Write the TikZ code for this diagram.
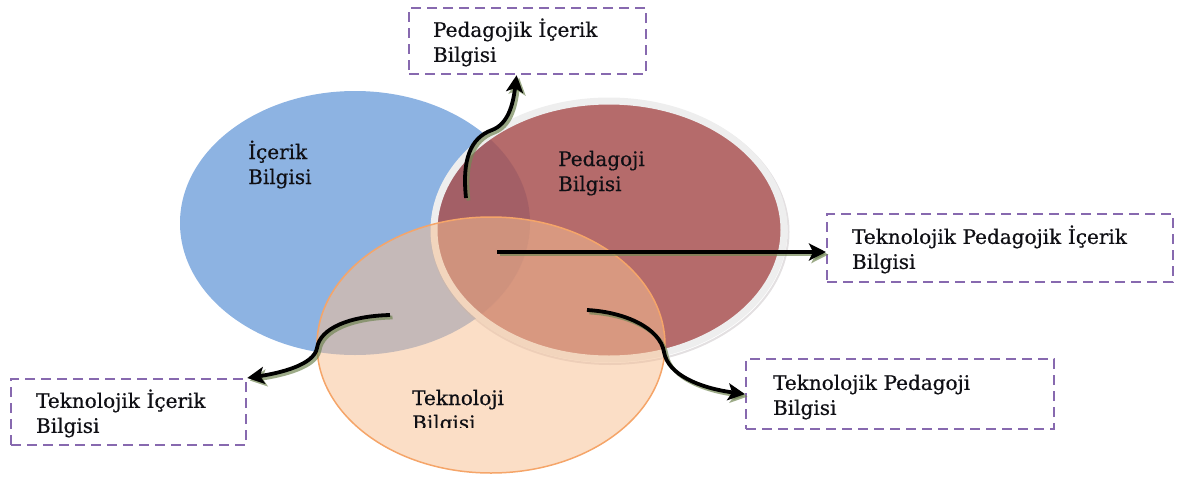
\documentclass[tikz,border=0pt]{standalone}
\usepackage{fontspec}
\setmainfont{DejaVu Serif}[FakeBold=0.6]
\usetikzlibrary{shapes.geometric,arrows.meta}
\definecolor{bluef}{RGB}{141,179,226}
\definecolor{redf}{RGB}{168,81,81}
\definecolor{rimc}{RGB}{238,238,238}
\definecolor{rimsh}{RGB}{175,165,170}
\definecolor{orf}{RGB}{247,192,147}
\definecolor{ord}{RGB}{245,165,105}
\definecolor{boxc}{RGB}{135,105,175}
\definecolor{shad}{RGB}{115,135,85}
\definecolor{txt}{RGB}{15,15,20}
\newcommand{\fstrut}{\rule{0pt}{21pt}}
\begin{document}
\begin{tikzpicture}[x=1pt,y=-1pt,
  lbl/.style={font=\fontsize{20}{25}\selectfont, text=txt, align=left, anchor=base west, inner sep=0pt},
  dbox/.style={draw=boxc, line width=2.2pt, dash pattern=on 10pt off 6pt,
    font=\fontsize{20}{25}\selectfont, text=txt, align=left, inner ysep=0pt, anchor=north west},
  blob/.style={ellipse, inner sep=0pt},
  conn/.style={line width=3.8pt, draw=black, -{Stealth[length=17pt,width=17pt,inset=4pt]}},
  connsh/.style={line width=3.8pt, draw=shad, opacity=0.7,
    -{Stealth[length=17pt,width=17pt,inset=4pt]}, transform canvas={xshift=2.5pt,yshift=-2.5pt}},
]
\useasboundingbox (0,0) rectangle (1179,480);

% ellipses
\node[blob, fill=bluef, minimum width=350pt, minimum height=264pt] (ic) at (355,223) {};
\draw[draw=rimsh, draw opacity=0.35, line width=2pt] (610,232) ellipse [x radius=178.5pt, y radius=132pt];
\node[blob, fill=redf, fill opacity=0.85, draw=rimc, line width=7pt,
      minimum width=350pt, minimum height=258pt] (pd) at (609,230) {};
\node[blob, fill=orf, fill opacity=0.53, draw=ord, line width=1.5pt,
      minimum width=348pt, minimum height=256pt] (tk) at (491,345) {};

% labels in ellipses (anchor = baseline of last line)
\node[lbl] (l1) at (248,184) {İçerik\\Bilgisi};
\node[lbl] (l2) at (558,191) {Pedagoji\\Bilgisi};
\begin{scope}
  \clip (380,380) rectangle (540,427);
  \node[lbl] (l3) at (412,430) {Teknoloji\\Bilgisi};
\end{scope}

% dashed boxes
\node[dbox, text width=189pt, inner xsep=24pt, minimum height=66pt] (b1) at (408,7) {\fstrut Pedagojik İçerik\\Bilgisi};
\node[dbox, text width=296pt, inner xsep=25pt, minimum height=68pt] (b2) at (826,213) {\fstrut Teknolojik Pedagojik İçerik\\Bilgisi};
\node[dbox, text width=185pt, inner xsep=25pt, minimum height=66pt] (b3) at (10,378) {\fstrut Teknolojik İçerik\\Bilgisi};
\node[dbox, text width=254pt, inner xsep=27pt, minimum height=70pt] (b4) at (745,358) {\fstrut Teknolojik Pedagoji\\Bilgisi};

% connector start points
\coordinate (s1) at (466,198);
\coordinate (s2) at (497,252);
\coordinate (s3) at (390,315);
\coordinate (s4) at (587,310);

% shadows
\draw[connsh] (s1) .. controls (462,160) and (470,138) .. (492,130) .. controls (508,124) and (513,105) .. ([xshift=-11pt]b1.south);
\draw[connsh] (s2) -- (s2 -| b2.west);
\draw[connsh] (s3) .. controls (350,316) and (320,328) .. (317,348) .. controls (314,365) and (280,373) .. (b3.north east);
\draw[connsh] (s4) .. controls (625,312) and (660,328) .. (664,352) .. controls (668,375) and (700,388) .. (b4.west);
% connectors
\draw[conn] (s1) .. controls (462,160) and (470,138) .. (492,130) .. controls (508,124) and (513,105) .. ([xshift=-11pt]b1.south);
\draw[conn] (s2) -- (s2 -| b2.west);
\draw[conn] (s3) .. controls (350,316) and (320,328) .. (317,348) .. controls (314,365) and (280,373) .. (b3.north east);
\draw[conn] (s4) .. controls (625,312) and (660,328) .. (664,352) .. controls (668,375) and (700,388) .. (b4.west);
\end{tikzpicture}
\end{document}
